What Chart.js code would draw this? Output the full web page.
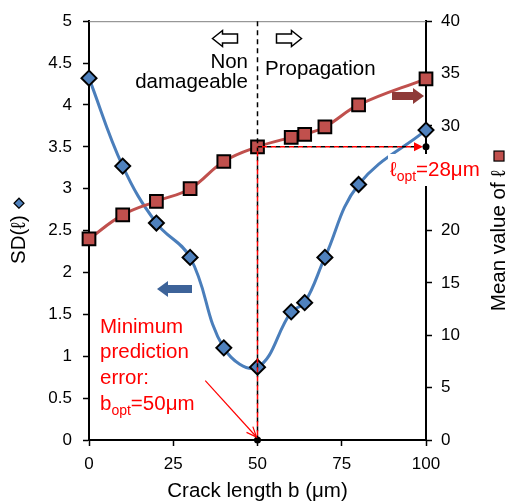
<!DOCTYPE html>
<html>
<head>
<meta charset="utf-8">
<script src="https://cdn.jsdelivr.net/npm/chart.js@4/dist/chart.umd.min.js"></script>
<style>
  html, body { margin: 0; padding: 0; background: #fff; }
  #c { display: block; }
</style>
</head>
<body>
<canvas id="c" width="506" height="504"></canvas>
<script>
// Crack lengths b (µm) at which the prediction was evaluated
const crackLengths = [0, 10, 20, 30, 40, 50, 60, 64, 70, 80, 100];
// Standard deviation SD(ℓ) – left axis
const sdValues = [4.32, 3.27, 2.59, 2.18, 1.10, 0.87, 1.53, 1.64, 2.18, 3.05, 3.70];
// Mean value of ℓ (µm) – right axis
const meanValues = [19.2, 21.5, 22.8, 24.0, 26.6, 28.0, 28.9, 29.2, 29.9, 32.0, 34.5];

const xTicks = [0, 25, 50, 75, 100];
const sdTicks = [0, 0.5, 1, 1.5, 2, 2.5, 3, 3.5, 4, 4.5, 5];
const meanTicks = [0, 5, 10, 15, 20, 25, 30, 35, 40];

// Optimum crack length and its mean ℓ
const bOpt = 50;
const lOpt = 28;

const FONT = '"Liberation Sans", Arial, Helvetica, sans-serif';
const tickFont = { family: FONT, size: 17 };

function setTicks(list) {
  return scale => { scale.ticks = list.map(v => ({ value: v })); };
}

function strokeLine(ctx, x1, y1, x2, y2) {
  ctx.beginPath();
  ctx.moveTo(x1, y1);
  ctx.lineTo(x2, y2);
  ctx.stroke();
}

// Block arrow: tip at (tx, ty), pointing left (dir=-1) or right (dir=1)
function blockArrow(ctx, tx, ty, len, headLen, headHalf, shaftHalf, dir) {
  ctx.beginPath();
  ctx.moveTo(tx, ty);
  ctx.lineTo(tx - dir * headLen, ty - headHalf);
  ctx.lineTo(tx - dir * headLen, ty - shaftHalf);
  ctx.lineTo(tx - dir * len, ty - shaftHalf);
  ctx.lineTo(tx - dir * len, ty + shaftHalf);
  ctx.lineTo(tx - dir * headLen, ty + shaftHalf);
  ctx.lineTo(tx - dir * headLen, ty + headHalf);
  ctx.closePath();
}

// Text with a subscript part, e.g. b_opt=50µm
function subText(ctx, x, y, main, sub, rest, size) {
  ctx.font = size + 'px ' + FONT;
  ctx.fillText(main, x, y);
  let cx = x + ctx.measureText(main).width;
  ctx.font = Math.round(size * 0.68) + 'px ' + FONT;
  ctx.fillText(sub, cx, y + 5);
  cx += ctx.measureText(sub).width;
  ctx.font = size + 'px ' + FONT;
  ctx.fillText(rest, cx, y);
  return cx + ctx.measureText(rest).width;
}

const annotations = {
  id: 'annotations',
  afterDatasetsDraw(chart) {
    const { ctx, chartArea: a, scales: { x, y, y1 } } = chart;
    const xb = x.getPixelForValue(bOpt);
    const yl = y1.getPixelForValue(lOpt);
    const xR = x.getPixelForValue(100);
    ctx.save();

    // thin top frame line
    ctx.strokeStyle = '#7f7f7f';
    ctx.lineWidth = 1;
    strokeLine(ctx, a.left, a.top + 0.5, a.right, a.top + 0.5);

    // black dashed boundary line at b_opt
    ctx.strokeStyle = '#000';
    ctx.lineWidth = 1.5;
    ctx.setLineDash([5, 4]);
    strokeLine(ctx, xb, a.top, xb, a.bottom);
    strokeLine(ctx, xb, yl, xR - 8, yl);

    // red dashed guides interleaved with the black ones
    ctx.strokeStyle = '#ff0000';
    ctx.lineDashOffset = 4.5;
    strokeLine(ctx, xb, yl, xb, a.bottom);
    strokeLine(ctx, xb, yl, xR - 9, yl);
    ctx.setLineDash([]);
    ctx.lineDashOffset = 0;

    // red arrow head toward right axis
    ctx.fillStyle = '#ff0000';
    ctx.beginPath();
    ctx.moveTo(xR - 3, yl);
    ctx.lineTo(xR - 12, yl - 4.5);
    ctx.lineTo(xR - 12, yl + 4.5);
    ctx.closePath();
    ctx.fill();

    // black dots at the optimum
    ctx.fillStyle = '#000';
    ctx.beginPath(); ctx.arc(xR, yl, 3.5, 0, Math.PI * 2); ctx.fill();
    ctx.beginPath(); ctx.arc(xb, a.bottom, 3.5, 0, Math.PI * 2); ctx.fill();

    // thin red pointer to the minimum
    const px0 = x.getPixelForValue(34.5), py0 = y.getPixelForValue(0.71);
    const px1 = xb - 1, py1 = a.bottom - 3;
    ctx.strokeStyle = '#ff0000';
    ctx.lineWidth = 1.2;
    strokeLine(ctx, px0, py0, px1, py1);
    const ang = Math.atan2(py1 - py0, px1 - px0);
    ctx.beginPath();
    ctx.moveTo(px1 - 11 * Math.cos(ang - 0.4), py1 - 11 * Math.sin(ang - 0.4));
    ctx.lineTo(px1, py1);
    ctx.lineTo(px1 - 11 * Math.cos(ang + 0.4), py1 - 11 * Math.sin(ang + 0.4));
    ctx.stroke();

    // hollow direction arrows
    ctx.fillStyle = '#fff';
    ctx.strokeStyle = '#000';
    ctx.lineWidth = 1.5;
    blockArrow(ctx, 212.5, 38.5, 25, 10, 8, 4.5, -1);
    ctx.fill(); ctx.stroke();
    blockArrow(ctx, 301.5, 38.5, 25, 10, 8, 4.5, 1);
    ctx.fill(); ctx.stroke();

    // filled arrows pointing at each series' axis
    ctx.fillStyle = '#3d6399';
    blockArrow(ctx, 157, 289, 35, 11, 8, 4, -1);
    ctx.fill();
    ctx.fillStyle = '#8e3a38';
    blockArrow(ctx, 424, 96, 32, 11, 8, 4, 1);
    ctx.fill();

    // region labels
    ctx.fillStyle = '#000';
    ctx.font = '20.5px ' + FONT;
    ctx.textBaseline = 'alphabetic';
    ctx.textAlign = 'right';
    ctx.fillText('Non', 248, 68);
    ctx.fillText('damageable', 248, 88);
    ctx.textAlign = 'left';
    ctx.fillText('Propagation', 265, 75);

    // minimum error label
    ctx.fillStyle = '#ff0000';
    ctx.font = '20.5px ' + FONT;
    ctx.fillText('Minimum', 100, 333);
    ctx.fillText('prediction', 100, 358);
    ctx.fillText('error:', 100, 384);
    subText(ctx, 100, 410, 'b', 'opt', '=50μm', 20.5);

    // optimum ℓ label on a white box
    ctx.fillStyle = '#fff';
    ctx.fillRect(388, 154, 98, 32);
    ctx.fillStyle = '#ff0000';
    subText(ctx, 390, 176, 'ℓ', 'opt', '=28μm', 20.5);

    ctx.restore();
  },
  afterDraw(chart) {
    const { ctx, chartArea: a } = chart;
    const midY = (a.top + a.bottom) / 2;
    ctx.save();
    ctx.fillStyle = '#000';
    ctx.font = '20.5px ' + FONT;
    ctx.textBaseline = 'middle';

    // bottom axis title
    ctx.textAlign = 'center';
    ctx.textBaseline = 'alphabetic';
    ctx.fillText('Crack length b (μm)', (a.left + a.right) / 2, 497);

    // left axis title with diamond marker
    ctx.textBaseline = 'middle';
    ctx.textAlign = 'left';
    let label = 'SD(ℓ)';
    let w = ctx.measureText(label).width;
    let total = w + 18;
    ctx.save();
    ctx.translate(19, midY + total / 2);
    ctx.rotate(-Math.PI / 2);
    ctx.fillText(label, 0, 0);
    ctx.translate(w + 12, 0);
    ctx.beginPath();
    ctx.moveTo(-5, 0); ctx.lineTo(0, -5); ctx.lineTo(5, 0); ctx.lineTo(0, 5);
    ctx.closePath();
    ctx.fillStyle = '#4f81bd';
    ctx.fill();
    ctx.strokeStyle = '#000';
    ctx.lineWidth = 1.2;
    ctx.stroke();
    ctx.restore();

    // right axis title with square marker
    label = 'Mean value of ℓ';
    w = ctx.measureText(label).width;
    total = w + 20;
    ctx.save();
    ctx.translate(499, midY + total / 2);
    ctx.rotate(-Math.PI / 2);
    ctx.fillStyle = '#000';
    ctx.fillText(label, 0, 0);
    ctx.translate(w + 14, 0);
    ctx.fillStyle = '#c0504d';
    ctx.fillRect(-5, -5, 10, 10);
    ctx.strokeStyle = '#000';
    ctx.lineWidth = 1.2;
    ctx.strokeRect(-5, -5, 10, 10);
    ctx.restore();

    ctx.restore();
  }
};

const axisGrid = { drawOnChartArea: false, tickLength: 6, color: '#000', tickColor: '#000', tickWidth: 1.5 };
const axisBorder = { color: '#000', width: 2 };

new Chart(document.getElementById('c'), {
  type: 'scatter',
  data: {
    datasets: [
      {
        label: 'SD(ℓ)',
        data: crackLengths.map((b, i) => ({ x: b, y: sdValues[i] })),
        yAxisID: 'y',
        showLine: true,
        tension: 0.4,
        borderColor: '#4a7ebb',
        borderWidth: 3,
        pointStyle: 'rectRot',
        pointRadius: 7.5,
        pointBackgroundColor: '#4f81bd',
        pointBorderColor: '#000',
        pointBorderWidth: 2,
        clip: false,
        order: 2
      },
      {
        label: 'Mean value of ℓ',
        data: crackLengths.map((b, i) => ({ x: b, y: meanValues[i] })),
        yAxisID: 'y1',
        showLine: true,
        tension: 0.4,
        borderColor: '#c0504d',
        borderWidth: 3,
        pointStyle: 'rect',
        pointRadius: 9,
        pointBackgroundColor: '#c0504d',
        pointBorderColor: '#000',
        pointBorderWidth: 2,
        clip: false,
        order: 1
      }
    ]
  },
  options: {
    responsive: false,
    animation: false,
    devicePixelRatio: 1,
    layout: { padding: { top: 19, left: 0, right: 0, bottom: 0 } },
    plugins: { legend: { display: false }, tooltip: { enabled: false } },
    scales: {
      x: {
        type: 'linear',
        min: 0, max: 100,
        afterBuildTicks: setTicks(xTicks),
        afterFit: s => { s.height = 64; },
        grid: axisGrid,
        border: axisBorder,
        ticks: { font: tickFont, color: '#000', padding: 8, maxRotation: 0, callback: v => String(v) }
      },
      y: {
        type: 'linear',
        position: 'left',
        min: 0, max: 5,
        afterBuildTicks: setTicks(sdTicks),
        afterFit: s => { s.width = 89; },
        grid: axisGrid,
        border: axisBorder,
        ticks: { font: tickFont, color: '#000', padding: 11, callback: v => String(v) }
      },
      y1: {
        type: 'linear',
        position: 'right',
        min: 0, max: 40,
        afterBuildTicks: setTicks(meanTicks),
        afterFit: s => { s.width = 80; },
        grid: axisGrid,
        border: axisBorder,
        ticks: { font: tickFont, color: '#000', padding: 9, callback: v => String(v) }
      }
    }
  },
  plugins: [annotations]
});
</script>
</body>
</html>
